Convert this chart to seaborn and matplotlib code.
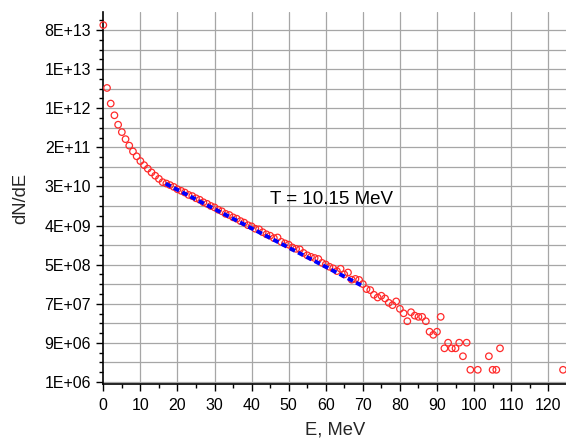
import matplotlib
matplotlib.use("Agg")
import matplotlib.pyplot as plt
from matplotlib.ticker import FixedLocator
import seaborn as sns
import numpy as np
import pandas as pd

# measured spectrum, dN/dE vs E (MeV)
energy = [0, 1, 2, 3, 4, 5, 6, 7, 8, 9,
          10, 11, 12, 13, 14, 15, 16, 17, 18, 19,
          20, 21, 22, 23, 24, 25, 26, 27, 28, 29,
          30, 31, 32, 33, 34, 35, 36, 37, 38, 39,
          40, 41, 42, 43, 44, 45, 46, 47, 48, 49,
          50, 51, 52, 53, 54, 55, 56, 57, 58, 59,
          60, 61, 62, 63, 64, 65, 66, 67, 68, 69,
          70, 71, 72, 73, 74, 75, 76, 77, 78, 79,
          80, 81, 82, 83, 84, 85, 86, 87, 88, 89,
          90, 91, 92, 93, 94, 95, 96, 97, 98, 99,
          101, 104, 105, 106, 107, 124]
dnde = [1.02e14, 4.09e12, 1.84e12, 1.01e12, 6.24e11, 4.27e11, 2.98e11, 2.14e11, 1.59e11, 1.24e11,
        9.72e10, 7.88e10, 6.58e10, 5.44e10, 4.59e10, 3.91e10, 3.30e10, 3.08e10, 2.84e10, 2.59e10,
        2.30e10, 2.12e10, 1.94e10, 1.72e10, 1.62e10, 1.45e10, 1.34e10, 1.18e10, 1.09e10, 9.75e9,
        9.08e9, 8.05e9, 7.43e9, 6.53e9, 6.15e9, 5.46e9, 5.09e9, 4.51e9, 4.17e9, 3.66e9,
        3.44e9, 3.05e9, 2.96e9, 2.55e9, 2.29e9, 2.13e9, 1.89e9, 1.95e9, 1.56e9, 1.44e9,
        1.35e9, 1.17e9, 1.09e9, 1.06e9, 8.84e8, 7.84e8, 7.24e8, 6.82e8, 6.49e8, 5.31e8,
        4.90e8, 4.35e8, 4.01e8, 3.49e8, 3.93e8, 2.94e8, 3.25e8, 2.25e8, 2.34e8, 2.22e8,
        1.80e8, 1.39e8, 1.32e8, 1.04e8, 9.04e7, 9.89e7, 8.60e7, 6.90e7, 6.12e7, 7.40e7,
        5.06e7, 4.03e7, 2.69e7, 4.26e7, 3.58e7, 3.36e7, 3.36e7, 2.69e7, 1.57e7, 1.34e7,
        1.57e7, 3.36e7, 6.72e6, 8.96e6, 6.72e6, 6.72e6, 8.96e6, 4.48e6, 8.96e6, 2.24e6,
        2.24e6, 4.48e6, 2.24e6, 2.24e6, 6.72e6, 2.24e6]

# exponential fit, T = 10.15 MeV
fit_energy = [16.8, 69.5]
fit_dnde = [3.06e10, 1.70e8]
fit_label = "T = 10.15 MeV"

xticks = [0, 10, 20, 30, 40, 50, 60, 70, 80, 90, 100, 110, 120]
ytick_ln = [14, 16, 18, 20, 22, 24, 26, 28, 30, 32]
ytick_labels = ["1E+06", "9E+06", "7E+07", "5E+08", "4E+09",
                "3E+10", "2E+11", "1E+12", "1E+13", "8E+13"]

df = pd.DataFrame({"E": energy, "dNdE": dnde})
fit = pd.DataFrame({"E": fit_energy, "dNdE": fit_dnde})

sns.set_theme(style="ticks")
plt.rcParams["font.family"] = ["Liberation Sans", "DejaVu Sans"]

fig = plt.figure(figsize=(5.66, 4.42), dpi=100)
ax = fig.add_axes([103.3 / 566, 1 - 384.3 / 442, (566 - 103.3) / 566, (384.3 - 11.7) / 442])

ax.set_yscale("log")

sns.scatterplot(data=df, x="E", y="dNdE", ax=ax, marker="o", s=22,
                facecolors="none", edgecolor="#ff2a2a", linewidth=0.9,
                clip_on=False, zorder=3)
sns.lineplot(data=fit, x="E", y="dNdE", ax=ax, color="#0000ff",
             linewidth=2.8, dashes=False, zorder=4)
ax.lines[-1].set_dashes((1.5, 0.9))

ax.set_xlim(0, 124.8)
ax.set_ylim(np.exp(13.88), np.exp(32.94))

ax.set_xticks(xticks)
ax.xaxis.set_minor_locator(FixedLocator(np.arange(5, 125, 10)))
yt = np.exp(ytick_ln)
ax.set_yticks(yt)
ax.set_yticklabels(ytick_labels)
ax.yaxis.set_minor_locator(FixedLocator(np.exp(np.arange(13.5, 33.0, 0.5))))
ax.yaxis.set_minor_formatter(plt.NullFormatter())

# grid: vertical at major x ticks, horizontal at every e-step
ax.grid(False)
for xv in xticks[1:]:
    ax.axvline(xv, color="#a6a6a6", linewidth=0.9, zorder=1)
for lv in np.arange(14, 33, 1):
    ax.axhline(np.exp(lv), color="#a6a6a6", linewidth=0.9, zorder=1)

for side in ["top", "right"]:
    ax.spines[side].set_visible(False)
for side in ["left", "bottom"]:
    ax.spines[side].set_linewidth(1.2)
    ax.spines[side].set_color("black")

ax.tick_params(axis="both", which="major", direction="out", length=5, width=1.0,
               labelsize=11.5, colors="black")
ax.tick_params(axis="x", which="major", pad=5)
ax.tick_params(axis="y", which="major", pad=4)
ax.tick_params(axis="both", which="minor", direction="out", length=3, width=1.0,
               colors="black")

ax.set_xlabel("E, MeV", fontsize=13.2, labelpad=6)
ax.set_ylabel("dN/dE", fontsize=13.2, labelpad=11)

ax.text(45, np.exp(23.1), fit_label, fontsize=13.5, color="black")

fig.savefig("out.png", dpi=100)
